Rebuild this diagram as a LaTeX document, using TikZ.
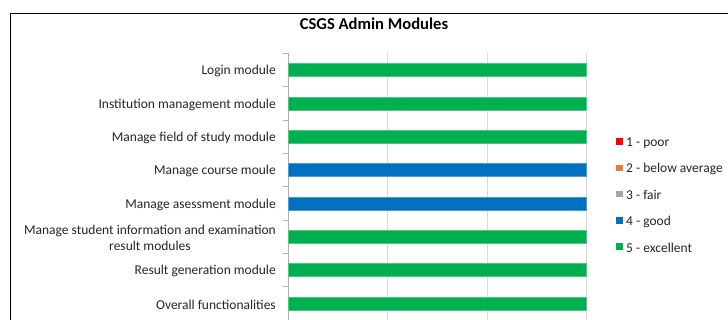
\documentclass[tikz,border=0pt]{standalone}
\usepackage{fontspec}
\setmainfont{Carlito}
\definecolor{barGreen}{HTML}{00B050}
\definecolor{barBlue}{HTML}{0070C0}
\definecolor{legRed}{HTML}{FF0000}
\definecolor{legOrange}{HTML}{ED7D31}
\definecolor{legGray}{HTML}{A5A5A5}
\definecolor{gridGray}{HTML}{D9D9D9}
\begin{document}
\begin{tikzpicture}[x=1pt,y=-1pt,
  cat/.style={anchor=east,font=\fontsize{13.5}{16.5}\selectfont,inner sep=0pt,align=center,text=black!85},
  bar/.style={draw=#1!70!white,line width=0.6pt,fill=#1},
  legsq/.style={fill=#1,minimum size=6.5pt,inner sep=0pt},
  legtxt/.style={anchor=west,font=\fontsize{13.5}{16.5}\selectfont,inner sep=0pt,text=black!85},
  grid line/.style={draw=gridGray,line width=1pt},
  axis line/.style={draw=gridGray!80!black,line width=0.8pt}]
\useasboundingbox (0,0) rectangle (728,320);
\fill[white] (0,0) rectangle (728,320);
% chart frame (runs off the right and bottom edges)
\draw[line width=1.4pt] (10.7,330) -- (10.7,13.3) -- (740,13.3);
% title
\node[font=\bfseries\fontsize{16.6}{19}\selectfont,inner sep=0pt] (title) at (374,24) {CSGS Admin Modules};
% vertical gridlines
\foreach \gx in {387,487,586} \draw[grid line] (\gx,53.3) -- (\gx,330);
% category axis with tick marks
\draw[axis line] (288,53.3) -- (288,330);
\foreach \i in {0,...,8} \draw[axis line] (283,53.3+33.33*\i) -- (288,53.3+33.33*\i);
% bars and category labels
\foreach \name/\col/\txt [count=\i from 0] in {
  login/barGreen/{Login module},
  inst/barGreen/{Institution management module},
  field/barGreen/{Manage field of study module},
  course/barBlue/{Manage course moule},
  assess/barBlue/{Manage asessment module},
  student/barGreen/{Manage student information and examination\\result modules},
  result/barGreen/{Result generation module},
  overall/barGreen/{Overall functionalities}}{
  \path[bar=\col] (288,63.5+33.33*\i) rectangle (586,76.7+33.33*\i);
  \node[cat] (lab-\name) at (276,71.2+33.33*\i) {\txt};
}
% legend
\foreach \name/\col/\txt [count=\i from 0] in {
  poor/legRed/{1 - poor},
  below/legOrange/{2 - below average},
  fair/legGray/{3 - fair},
  good/barBlue/{4 - good},
  excellent/barGreen/{5 - excellent}}{
  \node[legsq=\col] (sq-\name) at (619.5,141.5+26.3*\i) {};
  \node[legtxt] (leg-\name) at (626,142.8+26.3*\i) {\txt};
}
\end{tikzpicture}
\end{document}
